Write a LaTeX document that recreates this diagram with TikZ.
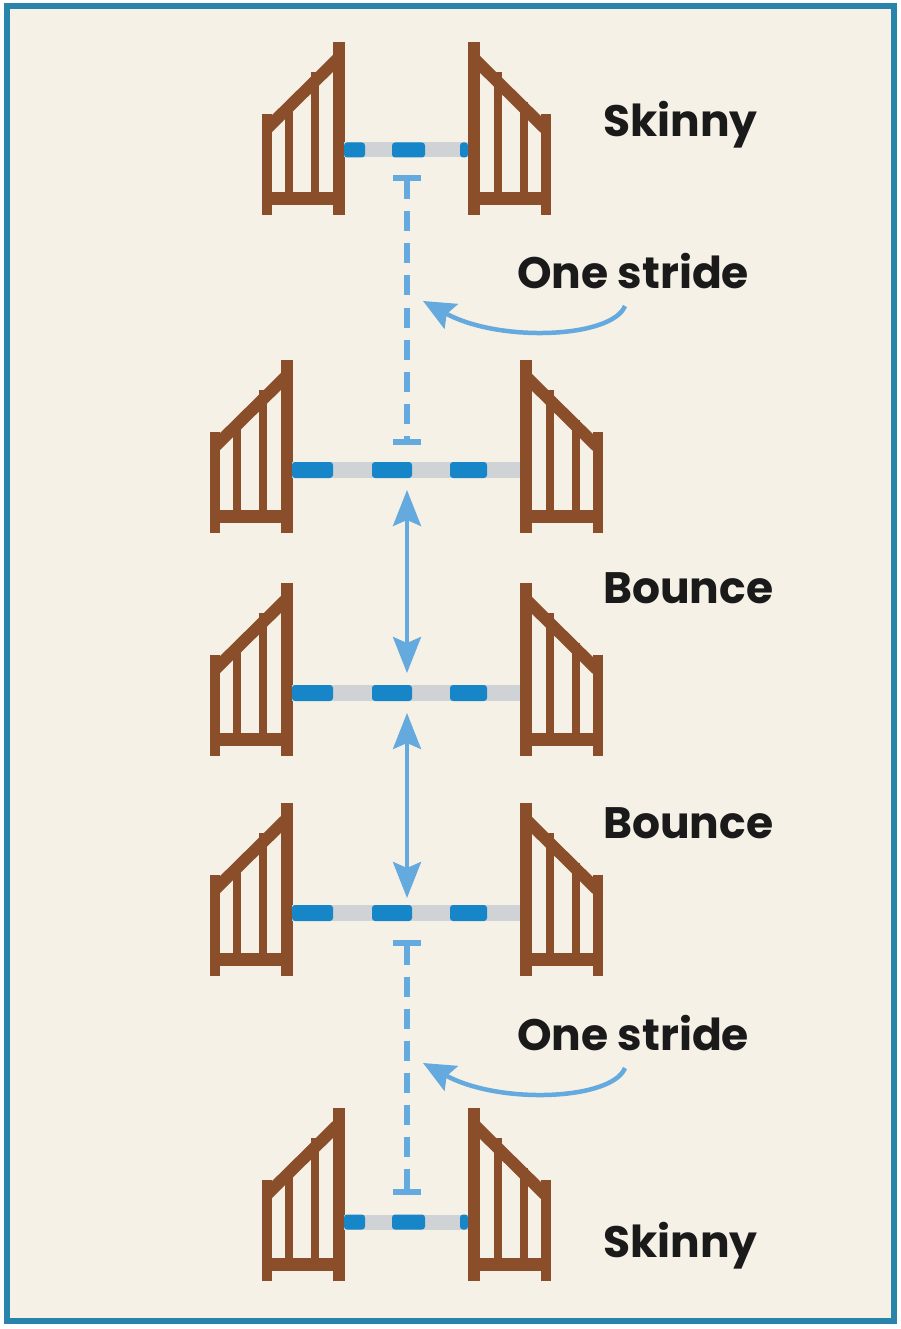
\documentclass[tikz,border=0pt]{standalone}
\usepackage{fontspec}
\setmainfont{Poppins}
\usetikzlibrary{arrows.meta}
\definecolor{sand}{RGB}{246,241,230}
\definecolor{framecol}{RGB}{40,132,170}
\definecolor{wood}{RGB}{138,78,43}
\definecolor{poleblue}{RGB}{22,134,200}
\definecolor{polegrey}{RGB}{208,211,214}
\definecolor{guide}{RGB}{100,170,222}
\definecolor{ink}{RGB}{26,26,26}
\tikzset{
  woodbar/.style={draw=wood, line cap=butt},
  standard/.pic={
    \draw[woodbar, line width=8] (-50,60) -- (-50,156);
    \draw[woodbar, line width=8] (-24,30) -- (-24,156);
    \draw[woodbar, line width=13] (-72,156.5) -- (0,156.5);
    \draw[woodbar, line width=12] (0,16) -- (-72,87);
    \draw[woodbar, line width=12] (0,0) -- (0,173);
    \draw[woodbar, line width=10] (-72,72) -- (-72,173);
  },
  skinnypole/.pic={
    \fill[polegrey] (0,-7.5) rectangle (124,7.5);
    \foreach \a/\b in {0/21,48/81,116/124}
      \fill[poleblue, rounded corners=3] (\a,-7.5) rectangle (\b,7.5);
  },
  widepole/.pic={
    \fill[polegrey] (0,-8) rectangle (228,8);
    \foreach \a/\b in {0/41,80/120,158/195}
      \fill[poleblue, rounded corners=3] (\a,-8) rectangle (\b,8);
  },
  label/.style={anchor=base west, inner sep=0, text=ink, font=\bfseries\fontsize{44}{53}\selectfont},
  stride/.style={draw=guide, line width=6, dash pattern=on 20pt off 12pt,
    {Bar[width=28pt]}-{Bar[width=28pt]}},
  bounce/.style={draw=guide, line width=4,
    {Stealth[length=36pt,width=28pt,inset=6pt]}-{Stealth[length=36pt,width=28pt,inset=6pt]}},
  pointer/.style={draw=guide, line width=4.5, -{Stealth[length=32pt,width=28pt,inset=5pt]}}
}
\begin{document}
\begin{tikzpicture}[x=1pt,y=-1pt]
\useasboundingbox (0,0) rectangle (900,1329);
\fill[white] (0,0) rectangle (900,1329);
\fill[sand] (7,6.5) rectangle (893.5,1321);
\draw[framecol, line width=6] (7,6.5) rectangle (893.5,1321);

% jumps, top to bottom
\pic at (338.5,42) {standard};
\pic[xscale=-1] at (473.5,42) {standard};
\pic at (344,150) {skinnypole};

\pic at (286.5,360) {standard};
\pic[xscale=-1] at (525.5,360) {standard};
\pic at (292,470) {widepole};

\pic at (286.5,583) {standard};
\pic[xscale=-1] at (525.5,583) {standard};
\pic at (292,693) {widepole};

\pic at (286.5,803) {standard};
\pic[xscale=-1] at (525.5,803) {standard};
\pic at (292,913) {widepole};

\pic at (338.5,1108) {standard};
\pic[xscale=-1] at (473.5,1108) {standard};
\pic at (344,1222) {skinnypole};

% distances
\coordinate (d1) at (407,175);
\coordinate (d2) at (407,445);
\coordinate (b1) at (407,490);
\coordinate (b2) at (407,673);
\coordinate (b3) at (407,713);
\coordinate (b4) at (407,898);
\coordinate (d3) at (407,940);
\coordinate (d4) at (407,1195);
\draw[stride] (d1) -- (d2);
\draw[bounce] (b1) -- (b2);
\draw[bounce] (b3) -- (b4);
\draw[stride] (d3) -- (d4);

% labels
\node[label] (skinny1) at (603,137) {Skinny};
\node[label] (stride1) at (517,289) {One stride};
\node[label] (bounce1) at (603,603) {Bounce};
\node[label] (bounce2) at (603,838) {Bounce};
\node[label] (stride2) at (517,1050) {One stride};
\node[label] (skinny2) at (603,1257) {Skinny};

\coordinate (s1) at (625,306);
\coordinate (e1) at (423,301);
\coordinate (s2) at (625,1068);
\coordinate (e2) at (423,1063);
\draw[pointer] (s1) .. controls (612,338) and (500,343) .. (e1);
\draw[pointer] (s2) .. controls (612,1100) and (500,1105) .. (e2);
\end{tikzpicture}
\end{document}
